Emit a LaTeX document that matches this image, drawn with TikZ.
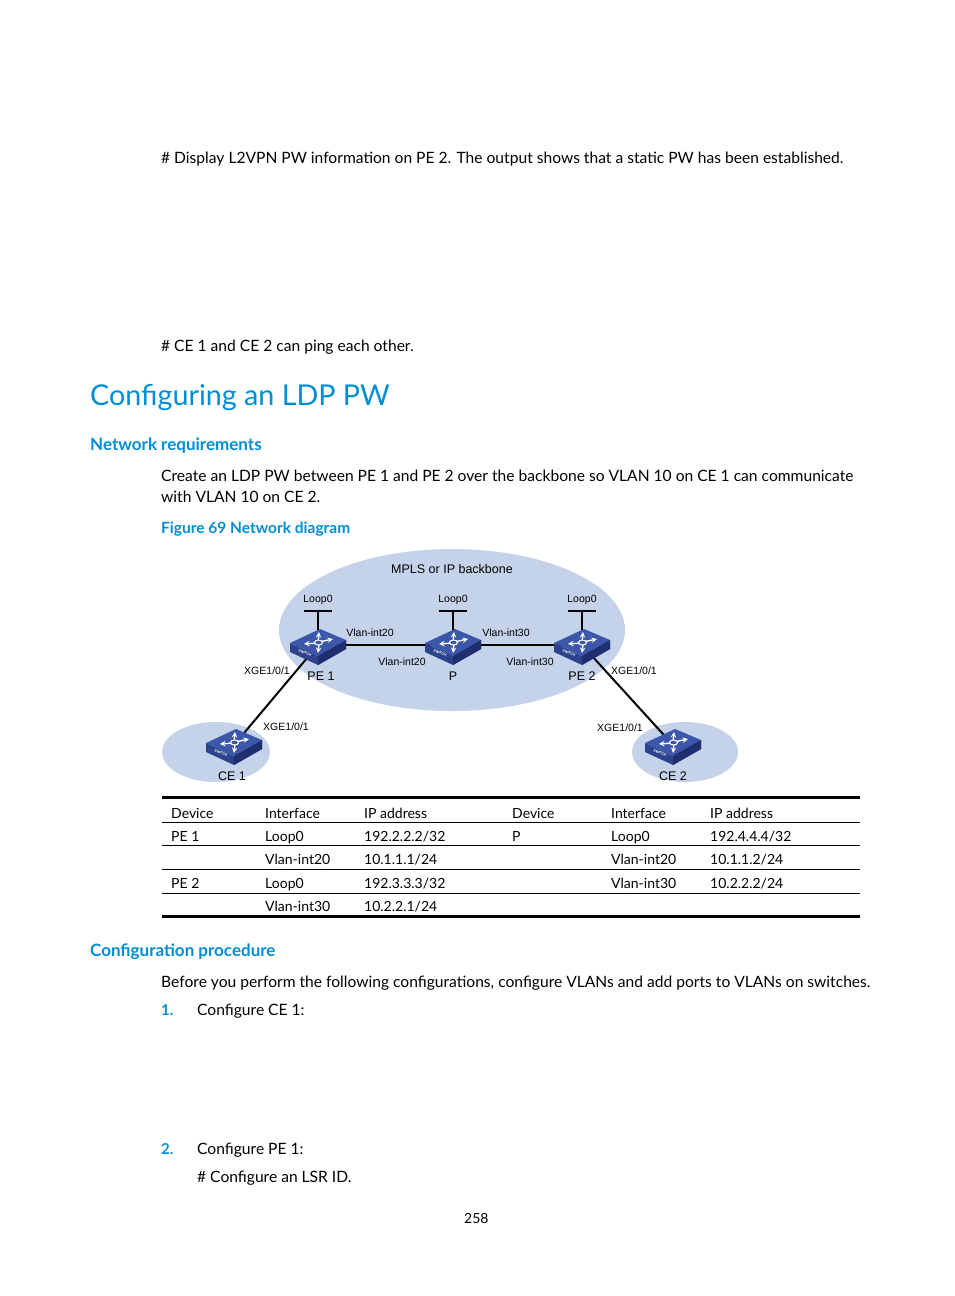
\documentclass[tikz,border=0pt]{standalone}
\usepackage{fontspec}
\setmainfont{Lato}
\newfontfamily\arial{Liberation Sans}
\begin{document}
\begin{tikzpicture}[x=1pt,y=-1pt,
  body/.style={anchor=base west,inner sep=0,font=\fontsize{15.6}{20}\selectfont},
  hblue/.style={text=hpblue},
  lbl/.style={inner sep=0,font=\arial\fontsize{10.5}{12}\selectfont},
  dev/.style={inner sep=0,font=\arial\fontsize{12.5}{14}\selectfont},
  link/.style={line width=2pt},
  tcell/.style={anchor=base west,inner sep=0,font=\fontsize{14}{16}\selectfont},
  sw/.pic={
    \fill[swside] (-28,-2) -- (0,11) -- (28,-5) -- (28,4) -- (0,20) -- (-28,7) -- cycle;
    \fill[swtop] (-28,-2) -- (2,-16) -- (28,-5) -- (0,11) -- cycle;
    \fill[swdark] (0,11) -- (28,-5) -- (28,4) -- (0,20) -- cycle;
    \draw[white,line width=1.4pt,-stealth] (0,-2) -- (-14,-1);
    \draw[white,line width=1.4pt,-stealth] (1,-3) -- (15,-6);
    \draw[white,line width=1.4pt,-stealth] (0,-3) -- (1,-13);
    \draw[white,line width=1.4pt,-stealth] (1,-1) -- (0,8);
    \fill[swtop] (0.5,-2.5) circle[x radius=4,y radius=2.5];
    \draw[white,line width=1pt] (0.5,-2.5) circle[x radius=4,y radius=2.5];
    \node[white,font=\arial\fontsize{3.5}{4}\selectfont\bfseries,rotate=-25,inner sep=0] at (-13,8) {SWITCH};
  }]
\definecolor{hpblue}{RGB}{0,142,214}
\definecolor{cloudc}{RGB}{197,211,234}
\definecolor{swtop}{RGB}{60,86,170}
\definecolor{swside}{RGB}{45,66,140}
\definecolor{swdark}{RGB}{30,46,110}
\useasboundingbox (0,0) rectangle (954,1296);
\fill[white] (0,0) rectangle (954,1296);

\node[body] (t1) at (161,163) {\# Display L2VPN PW information on PE 2. The output shows that a static PW has been established.};
\node[body] (t2) at (161,351) {\# CE 1 and CE 2 can ping each other.};
\node[body,hblue,font=\fontsize{28.7}{32}\selectfont] (h1) at (90,405) {Configuring an LDP PW};
\node[body,hblue,font=\fontsize{17}{20}\selectfont\bfseries] (h2) at (90,450) {Network requirements};
\node[body] (t3) at (161,481) {Create an LDP PW between PE 1 and PE 2 over the backbone so VLAN 10 on CE 1 can communicate};
\node[body] (t4) at (161,502) {with VLAN 10 on CE 2.};
\node[body,hblue,font=\fontsize{15.5}{18}\selectfont\bfseries] (fig) at (161,533) {Figure 69 Network diagram};

% clouds
\fill[cloudc] (452,630) ellipse[x radius=173,y radius=81];
\fill[cloudc] (216,752) ellipse[x radius=54,y radius=30];
\fill[cloudc] (685,752) ellipse[x radius=53,y radius=30];
\node[dev] (mpls) at (452,569) {MPLS or IP backbone};

\coordinate (pe1) at (318,645);
\coordinate (p) at (453,645);
\coordinate (pe2) at (582,645);
\coordinate (ce1) at (234,745);
\coordinate (ce2) at (673,745);
\draw[link] (pe1) -- (p) -- (pe2);
\draw[link] (pe1) -- (ce1);
\draw[link] (pe2) -- (ce2);
\foreach \s in {pe1,p,pe2}{
  \draw[link] ([yshift=12]\s) -- ([yshift=34]\s);
  \draw[link] ([xshift=-14,yshift=34]\s) -- ([xshift=14,yshift=34]\s);
  \node[lbl] at ([yshift=45]\s) {Loop0};
}
\foreach \s in {pe1,p,pe2,ce1,ce2} \pic at (\s) {sw};

\node[dev] (lpe1) at (321,676) {PE 1};
\node[dev] (lp) at (453,676) {P};
\node[dev] (lpe2) at (582,676) {PE 2};
\node[dev] (lce1) at (232,776) {CE 1};
\node[dev] (lce2) at (673,776) {CE 2};
\node[lbl] at (370,633) {Vlan-int20};
\node[lbl] at (402,662) {Vlan-int20};
\node[lbl] at (506,633) {Vlan-int30};
\node[lbl] at (530,662) {Vlan-int30};
\node[lbl] at (267,671) {XGE1/0/1};
\node[lbl] at (286,727) {XGE1/0/1};
\node[lbl] at (634,671) {XGE1/0/1};
\node[lbl] at (620,728) {XGE1/0/1};

% table
\draw[line width=3pt] (162,797) -- (860,797);
\draw[line width=3pt] (162,916) -- (860,916);
\foreach \y in {822,845,869,893} \draw[line width=0.6pt] (162,\y) -- (860,\y);
\node[tcell] at (171,818) {Device};
\node[tcell] at (265,818) {Interface};
\node[tcell] at (364,818) {IP address};
\node[tcell] at (512,818) {Device};
\node[tcell] at (611,818) {Interface};
\node[tcell] at (710,818) {IP address};
\node[tcell] at (171,841) {PE 1};
\node[tcell] at (265,841) {Loop0};
\node[tcell] at (364,841) {192.2.2.2/32};
\node[tcell] at (512,841) {P};
\node[tcell] at (611,841) {Loop0};
\node[tcell] at (710,841) {192.4.4.4/32};
\node[tcell] at (265,864) {Vlan-int20};
\node[tcell] at (364,864) {10.1.1.1/24};
\node[tcell] at (611,864) {Vlan-int20};
\node[tcell] at (710,864) {10.1.1.2/24};
\node[tcell] at (171,888) {PE 2};
\node[tcell] at (265,888) {Loop0};
\node[tcell] at (364,888) {192.3.3.3/32};
\node[tcell] at (611,888) {Vlan-int30};
\node[tcell] at (710,888) {10.2.2.2/24};
\node[tcell] at (265,911) {Vlan-int30};
\node[tcell] at (364,911) {10.2.2.1/24};

\node[body,hblue,font=\fontsize{17}{20}\selectfont\bfseries] (h3) at (90,956) {Configuration procedure};
\node[body] (t5) at (161,987) {Before you perform the following configurations, configure VLANs and add ports to VLANs on switches.};
\node[body,hblue,font=\fontsize{15}{20}\selectfont\bfseries] (n1) at (161,1015) {1.};
\node[body] (s1) at (197,1015) {Configure CE 1:};
\node[body,hblue,font=\fontsize{15}{20}\selectfont\bfseries] (n2) at (161,1154) {2.};
\node[body] (s2) at (197,1154) {Configure PE 1:};
\node[body] (s3) at (197,1182) {\# Configure an LSR ID.};
\node[body,font=\fontsize{14}{16}\selectfont] (pg) at (464,1223) {258};
\end{tikzpicture}
\end{document}
